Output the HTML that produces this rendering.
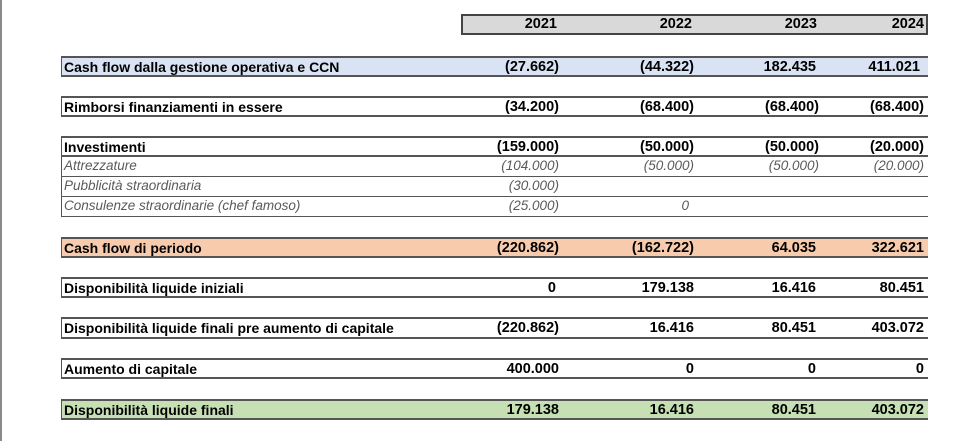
<!DOCTYPE html>
<html><head><meta charset="utf-8"><style>
html,body{margin:0;padding:0;background:#fff;}
body{width:961px;height:441px;position:relative;overflow:hidden;font-family:"Liberation Sans",Arial,sans-serif;}
.vline{position:absolute;left:0;top:0;width:2px;height:441px;background:#8a8a8a;}
.row{position:absolute;left:61px;width:867px;height:19px;border-top:2px solid #555;border-bottom:2px solid #555;border-left:1.5px solid #555;box-sizing:border-box;}
.sub{border-top:none;border-bottom:1.5px solid #555;}
.c{position:absolute;top:0;height:100%;font-size:14px;line-height:18px;font-weight:bold;color:#000;white-space:nowrap;}
.lab{left:2px;}
.v{text-align:right;font-size:14.5px;}
.v1{right:369px}.v2{right:234px}.v3{right:109px}.v4{right:4px}
.it .c{font-weight:normal;font-style:italic;color:#5a5a5a;font-size:13.5px;line-height:18px;}
.hdr{position:absolute;left:461px;top:14px;width:467px;height:21px;background:#d9d9d9;border:2px solid #444;box-sizing:border-box;}
.hdr .c{line-height:17px;font-size:14.5px;}
</style></head><body>
<div class="vline"></div>

<div class="hdr">
  <span class="c v" style="right:369px">2021</span>
  <span class="c v" style="right:234px">2022</span>
  <span class="c v" style="right:109px">2023</span>
  <span class="c v" style="right:2px">2024</span>
</div>

<div class="row" style="top:56px;height:21px;background:#dae3f3">
  <span class="c lab">Cash flow dalla gestione operativa e CCN</span>
  <span class="c v v1">(27.662)</span>
  <span class="c v v2">(44.322)</span>
  <span class="c v v3" style="right:112px">182.435</span>
  <span class="c v v4" style="right:8px">411.021</span>
</div>

<div class="row" style="top:96px;height:21px">
  <span class="c lab">Rimborsi finanziamenti in essere</span>
  <span class="c v v1">(34.200)</span>
  <span class="c v v2">(68.400)</span>
  <span class="c v v3">(68.400)</span>
  <span class="c v v4">(68.400)</span>
</div>

<div class="row" style="top:136px;height:21px">
  <span class="c lab">Investimenti</span>
  <span class="c v v1">(159.000)</span>
  <span class="c v v2">(50.000)</span>
  <span class="c v v3">(50.000)</span>
  <span class="c v v4">(20.000)</span>
</div>
<div class="row sub it" style="top:157px;height:20px">
  <span class="c lab">Attrezzature</span>
  <span class="c v v1">(104.000)</span>
  <span class="c v v2">(50.000)</span>
  <span class="c v v3">(50.000)</span>
  <span class="c v v4">(20.000)</span>
</div>
<div class="row sub it" style="top:177px;height:20px">
  <span class="c lab">Pubblicità straordinaria</span>
  <span class="c v v1">(30.000)</span>
</div>
<div class="row sub it" style="top:197px;height:20px">
  <span class="c lab">Consulenze straordinarie (chef famoso)</span>
  <span class="c v v1">(25.000)</span>
  <span class="c v v2" style="right:239px">0</span>
</div>

<div class="row" style="top:237px;height:21px;background:#f8cbad">
  <span class="c lab">Cash flow di periodo</span>
  <span class="c v v1">(220.862)</span>
  <span class="c v v2">(162.722)</span>
  <span class="c v v3" style="right:112px">64.035</span>
  <span class="c v v4">322.621</span>
</div>

<div class="row" style="top:277px;height:21px">
  <span class="c lab">Disponibilità liquide iniziali</span>
  <span class="c v v1" style="right:372px">0</span>
  <span class="c v v2">179.138</span>
  <span class="c v v3" style="right:112px">16.416</span>
  <span class="c v v4">80.451</span>
</div>

<div class="row" style="top:317px;height:22px">
  <span class="c lab">Disponibilità liquide finali pre aumento di capitale</span>
  <span class="c v v1">(220.862)</span>
  <span class="c v v2">16.416</span>
  <span class="c v v3" style="right:112px">80.451</span>
  <span class="c v v4">403.072</span>
</div>

<div class="row" style="top:358px;height:21px">
  <span class="c lab">Aumento di capitale</span>
  <span class="c v v1">400.000</span>
  <span class="c v v2">0</span>
  <span class="c v v3" style="right:112px">0</span>
  <span class="c v v4">0</span>
</div>

<div class="row" style="top:399px;height:21px;background:#c6e0b4">
  <span class="c lab">Disponibilità liquide finali</span>
  <span class="c v v1">179.138</span>
  <span class="c v v2">16.416</span>
  <span class="c v v3" style="right:112px">80.451</span>
  <span class="c v v4">403.072</span>
</div>
</body></html>
